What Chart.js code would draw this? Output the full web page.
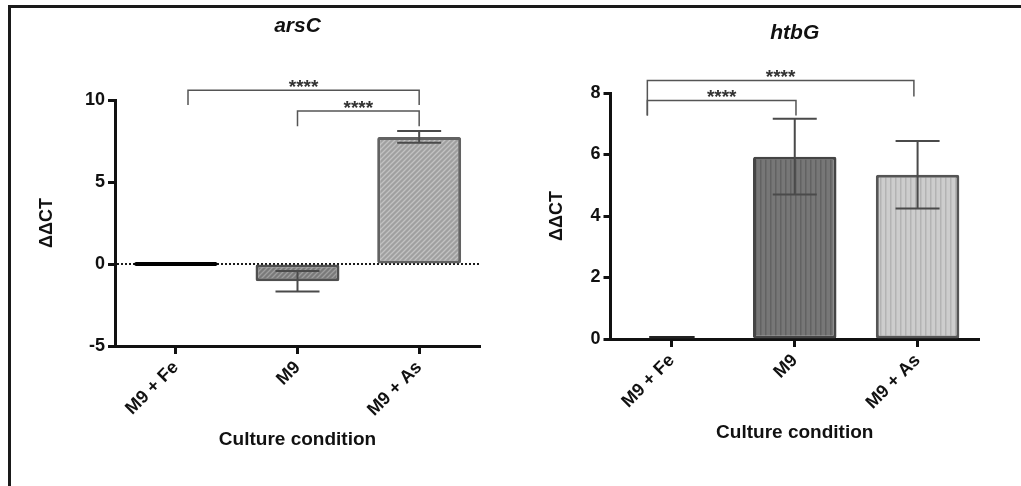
<!DOCTYPE html>
<html>
<head>
<meta charset="utf-8">
<script src="https://cdn.jsdelivr.net/npm/chart.js@4"></script>
<style>
  html, body { margin: 0; padding: 0; background: #fff; }
  #wrap { position: relative; width: 1021px; height: 486px; overflow: hidden; }
  #frame { position: absolute; left: 8px; top: 5px; right: -10px; bottom: -10px;
           border-top: 3px solid #1a1a1a; border-left: 3px solid #1a1a1a; }
  #arsChart { position: absolute; left: 0; top: 0; width: 510px; height: 486px; }
  #htbChart { position: absolute; left: 510px; top: 0; width: 511px; height: 486px; }
</style>
</head>
<body>
<div id="wrap">
  <div id="frame"></div>
  <canvas id="arsChart" width="510" height="486"></canvas>
  <canvas id="htbChart" width="511" height="486"></canvas>
</div>
<script>
const conditions = ['M9 + Fe', 'M9', 'M9 + As'];

// arsC: mean ΔΔCT and SD per condition
const arsMean = [0, -1.05, 7.75];
const arsSd = [0, 0.62, 0.36];
const arsTicks = [-5, 0, 5, 10];

// htbG: mean ΔΔCT and SD per condition
const htbMean = [0.05, 5.93, 5.34];
const htbSd = [0, 1.23, 1.1];
const htbTicks = [0, 2, 4, 6, 8];

// significance brackets: [from, to, height, left leg end, right leg end]
const arsBrackets = [[0.1, 2, 10.6, 9.7, 9.7], [1, 2, 9.33, 8.4, 8.4]];
const htbBrackets = [[-0.2, 1.97, 8.41, 7.27, 7.89], [-0.2, 1.01, 7.76, 7.27, 7.27]];
const starLabel = '****';

const FONT = "'Liberation Sans', Arial, sans-serif";

function hatch(ctx, base, line) {
  const c = document.createElement('canvas');
  c.width = c.height = 5;
  const g = c.getContext('2d');
  g.fillStyle = base;
  g.fillRect(0, 0, 5, 5);
  g.strokeStyle = line;
  g.lineWidth = 1.3;
  g.beginPath();
  g.moveTo(0, 5); g.lineTo(5, 0);
  g.moveTo(-1, 1); g.lineTo(1, -1);
  g.moveTo(4, 6); g.lineTo(6, 4);
  g.stroke();
  return ctx.createPattern(c, 'repeat');
}

function stripes(ctx, base, line) {
  const c = document.createElement('canvas');
  c.width = 5; c.height = 2;
  const g = c.getContext('2d');
  g.fillStyle = base;
  g.fillRect(0, 0, 5, 2);
  g.fillStyle = line;
  g.fillRect(0, 0, 1.5, 2);
  return ctx.createPattern(c, 'repeat');
}

const zeroLine = {
  id: 'zeroLine',
  beforeDatasetsDraw(chart) {
    const {ctx, chartArea, scales: {y}} = chart;
    const py = y.getPixelForValue(0);
    ctx.save();
    ctx.strokeStyle = '#1a1a1a';
    ctx.lineWidth = 2;
    ctx.setLineDash([2, 2]);
    ctx.beginPath();
    ctx.moveTo(chartArea.left + 2, py);
    ctx.lineTo(chartArea.right, py);
    ctx.stroke();
    ctx.restore();
  }
};

function errorBars(mean, sd) {
  return {
    id: 'errorBars',
    afterDatasetsDraw(chart) {
      const {ctx, scales: {x, y}} = chart;
      ctx.save();
      ctx.strokeStyle = '#4a4a4a';
      ctx.lineWidth = 2;
      mean.forEach((m, i) => {
        if (!sd[i]) return;
        const px = x.getPixelForValue(i);
        const hi = y.getPixelForValue(m + sd[i]);
        const lo = y.getPixelForValue(m - sd[i]);
        ctx.beginPath();
        ctx.moveTo(px, hi); ctx.lineTo(px, lo);
        ctx.moveTo(px - 22, hi); ctx.lineTo(px + 22, hi);
        ctx.moveTo(px - 22, lo); ctx.lineTo(px + 22, lo);
        ctx.stroke();
      });
      ctx.restore();
    }
  };
}

function brackets(list) {
  return {
    id: 'brackets',
    afterDraw(chart) {
      const {ctx, scales: {x, y}} = chart;
      ctx.save();
      ctx.strokeStyle = '#555';
      ctx.lineWidth = 1.5;
      ctx.fillStyle = '#333';
      ctx.font = 'bold 19px ' + FONT;
      ctx.textAlign = 'center';
      ctx.textBaseline = 'alphabetic';
      list.forEach(([a, b, h, endA, endB]) => {
        const xa = x.getPixelForValue(a), xb = x.getPixelForValue(b);
        const py = y.getPixelForValue(h);
        ctx.beginPath();
        ctx.moveTo(xa, y.getPixelForValue(endA));
        ctx.lineTo(xa, py);
        ctx.lineTo(xb, py);
        ctx.lineTo(xb, y.getPixelForValue(endB));
        ctx.stroke();
        ctx.fillText(starLabel, (xa + xb) / 2, py + 3);
      });
      ctx.restore();
    }
  };
}

function options(cfg) {
  const tickFont = {family: FONT, size: 18, weight: 'bold'};
  const axisFont = {family: FONT, size: 19, weight: 'bold'};
  return {
    responsive: false,
    animation: false,
    layout: {padding: cfg.padding},
    plugins: {
      legend: {display: false},
      tooltip: {enabled: false},
      title: {
        display: true,
        text: cfg.title,
        fullSize: false,
        color: '#111',
        font: {family: FONT, size: 21, weight: 'bold', style: 'italic'},
        padding: {top: cfg.titleTop, bottom: cfg.titleBottom}
      }
    },
    scales: {
      x: {
        offset: true,
        grid: {drawOnChartArea: false, offset: false, tickLength: 8, tickWidth: 3, tickColor: '#111'},
        border: {display: true, width: 3, color: '#111'},
        ticks: {color: '#111', font: tickFont, minRotation: 45, maxRotation: 45, padding: 3},
        title: {display: true, text: 'Culture condition', color: '#111', font: axisFont, padding: {top: 4, bottom: 4}},
        afterFit(scale) { scale.height = cfg.xHeight; }
      },
      y: {
        min: cfg.ticks[0],
        max: cfg.ticks[cfg.ticks.length - 1],
        grid: {drawOnChartArea: false, tickLength: 7, tickWidth: 3, tickColor: '#111'},
        border: {display: true, width: 3, color: '#111'},
        ticks: {stepSize: cfg.ticks[1] - cfg.ticks[0], color: '#111', font: tickFont, padding: 3},
        title: {display: true, text: 'ΔΔCT', color: '#111', font: {family: FONT, size: 18, weight: 'bold'}, padding: {top: 4, bottom: 4}},
        afterFit(scale) { scale.width = cfg.yWidth; }
      }
    }
  };
}

// arsC panel
const arsCtx = document.getElementById('arsChart').getContext('2d');
new Chart(arsCtx, {
  type: 'bar',
  data: {
    labels: conditions,
    datasets: [{
      data: arsMean,
      backgroundColor: ['#000', hatch(arsCtx, '#7a7a7a', '#9e9e9e'), hatch(arsCtx, '#a0a0a0', '#c2c2c2')],
      borderColor: ['#000', '#4f4f4f', '#626262'],
      borderWidth: 3,
      borderSkipped: false,
      borderRadius: 2,
      minBarLength: 4,
      barPercentage: 0.69,
      categoryPercentage: 1
    }]
  },
  options: options({
    title: 'arsC', ticks: arsTicks,
    padding: {left: 32, right: 30, top: 0, bottom: 31.2},
    titleTop: 14, titleBottom: 60.8,
    yWidth: 83, xHeight: 108.8
  }),
  plugins: [zeroLine, errorBars(arsMean, arsSd), brackets(arsBrackets)]
});

// htbG panel; the reference condition sits on its own narrower bar
const htbCtx = document.getElementById('htbChart').getContext('2d');
new Chart(htbCtx, {
  type: 'bar',
  data: {
    labels: conditions,
    datasets: [{
      data: htbMean.map((v, i) => i === 0 ? v : null),
      backgroundColor: '#222',
      borderWidth: 0,
      minBarLength: 3,
      grouped: false,
      barPercentage: 0.37,
      categoryPercentage: 1
    }, {
      data: htbMean.map((v, i) => i === 0 ? null : v),
      backgroundColor: [null, stripes(htbCtx, '#777', '#626262'), stripes(htbCtx, '#cdcdcd', '#b3b3b3')],
      borderColor: [null, '#454545', '#555'],
      borderWidth: 3,
      borderSkipped: false,
      borderRadius: 2,
      grouped: false,
      barPercentage: 0.68,
      categoryPercentage: 1
    }]
  },
  options: options({
    title: 'htbG', ticks: htbTicks,
    padding: {left: 32, right: 42, top: 0, bottom: 38.2},
    titleTop: 20.4, titleBottom: 47.4,
    yWidth: 68.5, xHeight: 108.8
  }),
  plugins: [errorBars(htbMean, htbSd), brackets(htbBrackets)]
});
</script>
</body>
</html>
